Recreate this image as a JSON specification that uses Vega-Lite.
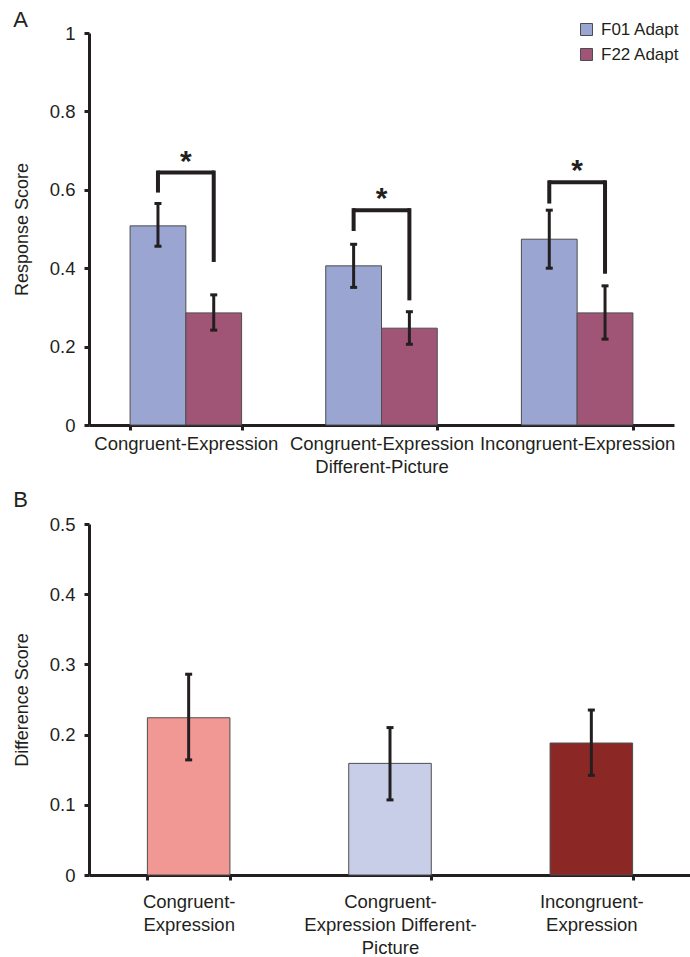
{
  "$schema": "https://vega.github.io/schema/vega-lite/v6.json",
  "background": "white",
  "padding": {"left": 13, "top": 9, "right": 0, "bottom": 0},
  "spacing": 13,
  "resolve": {"scale": {"color": "independent"}, "legend": {"color": "independent"}},
  "config": {
    "font": "Liberation Sans",
    "view": {"stroke": null},
    "axis": {
      "domainColor": "#231f20", "domainWidth": 3, "tickColor": "#231f20", "tickWidth": 3, "tickSize": 5,
      "labelFont": "Liberation Sans", "labelFontSize": 18.5, "labelColor": "#231f20",
      "titleFont": "Liberation Sans", "titleFontSize": 18, "titleFontWeight": "normal", "titleColor": "#231f20",
      "grid": false, "labelOverlap": false, "labelLimit": 400
    },
    "title": {"font": "Liberation Sans", "fontSize": 22, "fontWeight": "normal", "color": "#231f20", "anchor": "start", "frame": "bounds"}
  },
  "datasets": {
    "bars": [
      {"cond": "Congruent-Expression", "series": "F01 Adapt", "value": 0.508, "lo": 0.456, "hi": 0.565},
      {"cond": "Congruent-Expression", "series": "F22 Adapt", "value": 0.286, "lo": 0.242, "hi": 0.332},
      {"cond": "Congruent-Expression Different-Picture", "series": "F01 Adapt", "value": 0.406, "lo": 0.351, "hi": 0.461},
      {"cond": "Congruent-Expression Different-Picture", "series": "F22 Adapt", "value": 0.247, "lo": 0.206, "hi": 0.289},
      {"cond": "Incongruent-Expression", "series": "F01 Adapt", "value": 0.474, "lo": 0.4, "hi": 0.548},
      {"cond": "Incongruent-Expression", "series": "F22 Adapt", "value": 0.286, "lo": 0.219, "hi": 0.355}
    ],
    "legs": [
      {"cond": "Congruent-Expression", "series": "F01 Adapt", "top": 0.644, "bottom": 0.598},
      {"cond": "Congruent-Expression", "series": "F22 Adapt", "top": 0.644, "bottom": 0.421},
      {"cond": "Congruent-Expression Different-Picture", "series": "F01 Adapt", "top": 0.548, "bottom": 0.5},
      {"cond": "Congruent-Expression Different-Picture", "series": "F22 Adapt", "top": 0.548, "bottom": 0.323},
      {"cond": "Incongruent-Expression", "series": "F01 Adapt", "top": 0.619, "bottom": 0.57},
      {"cond": "Incongruent-Expression", "series": "F22 Adapt", "top": 0.619, "bottom": 0.391}
    ],
    "brackets": [
      {"cond": "Congruent-Expression", "level": 0.644, "mark": "*"},
      {"cond": "Congruent-Expression Different-Picture", "level": 0.548, "mark": "*"},
      {"cond": "Incongruent-Expression", "level": 0.619, "mark": "*"}
    ],
    "diff": [
      {"cond": "Congruent-Expression", "value": 0.224, "lo": 0.164, "hi": 0.286},
      {"cond": "Congruent-Expression Different-Picture", "value": 0.159, "lo": 0.107, "hi": 0.21},
      {"cond": "Incongruent-Expression", "value": 0.188, "lo": 0.142, "hi": 0.235}
    ]
  },
  "vconcat": [
    {
      "title": {"text": "A", "offset": -11, "dx": 0},
      "width": 585,
      "height": 392,
      "encoding": {
        "x": {
          "field": "cond", "type": "nominal", "sort": null, "title": null,
          "scale": {"paddingInner": 0.43, "paddingOuter": 0.21},
          "axis": {
            "labelAngle": 0, "tickBand": "extent", "labelPadding": 4, "labelLineHeight": 23,
            "labelExpr": "datum.value == 'Congruent-Expression Different-Picture' ? ['Congruent-Expression', 'Different-Picture'] : datum.value"
          }
        },
        "xOffset": {"field": "series", "type": "nominal", "sort": null}
      },
      "layer": [
        {
          "data": {"name": "bars"},
          "mark": {"type": "bar", "stroke": "#4d4d4f", "strokeWidth": 1},
          "encoding": {
            "y": {
              "field": "value", "type": "quantitative", "title": "Response Score",
              "scale": {"domain": [0, 1]},
              "axis": {"values": [0, 0.2, 0.4, 0.6, 0.8, 1], "format": "~g", "titlePadding": 18, "labelPadding": 9}
            },
            "color": {
              "field": "series", "type": "nominal", "sort": null,
              "scale": {"domain": ["F01 Adapt", "F22 Adapt"], "range": ["#9aa5d1", "#a05577"]},
              "legend": {
                "title": null, "orient": "none", "legendX": 489, "legendY": -12,
                "symbolType": "square", "symbolSize": 144, "symbolStrokeColor": "#4d4d4f", "symbolStrokeWidth": 1,
                "labelFontSize": 17, "labelFont": "Liberation Sans", "labelColor": "#231f20", "labelOffset": 6, "rowPadding": 7
              }
            }
          }
        },
        {
          "data": {"name": "bars"},
          "mark": {"type": "rule", "color": "#231f20", "strokeWidth": 3},
          "encoding": {"y": {"field": "lo", "type": "quantitative"}, "y2": {"field": "hi"}}
        },
        {
          "data": {"name": "bars"},
          "mark": {"type": "tick", "orient": "horizontal", "color": "#231f20", "opacity": 1, "size": 7, "thickness": 3},
          "encoding": {"y": {"field": "lo", "type": "quantitative"}}
        },
        {
          "data": {"name": "bars"},
          "mark": {"type": "tick", "orient": "horizontal", "color": "#231f20", "opacity": 1, "size": 7, "thickness": 3},
          "encoding": {"y": {"field": "hi", "type": "quantitative"}}
        },
        {
          "data": {"name": "legs"},
          "mark": {"type": "rule", "color": "#231f20", "strokeWidth": 4, "strokeCap": "square"},
          "encoding": {"y": {"field": "top", "type": "quantitative"}, "y2": {"field": "bottom"}}
        },
        {
          "data": {"name": "brackets"},
          "mark": {"type": "tick", "orient": "horizontal", "color": "#231f20", "opacity": 1, "size": 57, "thickness": 4},
          "encoding": {"xOffset": null, "y": {"field": "level", "type": "quantitative"}}
        },
        {
          "data": {"name": "brackets"},
          "mark": {"type": "text", "color": "#231f20", "fontSize": 30, "fontWeight": "bold", "baseline": "alphabetic", "dy": -2},
          "encoding": {"xOffset": null, "y": {"field": "level", "type": "quantitative"}, "text": {"field": "mark"}}
        }
      ]
    },
    {
      "title": {"text": "B", "offset": 3, "dx": 0},
      "width": 602,
      "height": 351,
      "data": {"name": "diff"},
      "encoding": {
        "x": {
          "field": "cond", "type": "nominal", "sort": null, "title": null,
          "scale": {"paddingInner": 0.59, "paddingOuter": 0.29},
          "axis": {
            "labelAngle": 0, "tickBand": "extent", "labelPadding": 12, "labelLineHeight": 23,
            "labelExpr": "datum.value == 'Congruent-Expression' ? ['Congruent-', 'Expression'] : datum.value == 'Incongruent-Expression' ? ['Incongruent-', 'Expression'] : datum.value == 'Congruent-Expression Different-Picture' ? ['Congruent-', 'Expression Different-', 'Picture'] : ''"
          }
        }
      },
      "layer": [
        {
          "mark": {"type": "bar", "stroke": "#4d4d4f", "strokeWidth": 1},
          "encoding": {
            "y": {
              "field": "value", "type": "quantitative", "title": "Difference Score",
              "scale": {"domain": [0, 0.5]},
              "axis": {"values": [0, 0.1, 0.2, 0.3, 0.4, 0.5], "format": "~g", "titlePadding": 18, "labelPadding": 9}
            },
            "color": {
              "field": "cond", "type": "nominal", "sort": null, "legend": null,
              "scale": {"domain": ["Congruent-Expression", "Congruent-Expression Different-Picture", "Incongruent-Expression"], "range": ["#f29894", "#c8cde8", "#8b2826"]}
            }
          }
        },
        {
          "mark": {"type": "rule", "color": "#231f20", "strokeWidth": 3},
          "encoding": {"y": {"field": "lo", "type": "quantitative"}, "y2": {"field": "hi"}}
        },
        {
          "mark": {"type": "tick", "orient": "horizontal", "color": "#231f20", "opacity": 1, "size": 7, "thickness": 3},
          "encoding": {"y": {"field": "lo", "type": "quantitative"}}
        },
        {
          "mark": {"type": "tick", "orient": "horizontal", "color": "#231f20", "opacity": 1, "size": 7, "thickness": 3},
          "encoding": {"y": {"field": "hi", "type": "quantitative"}}
        }
      ]
    }
  ]
}
